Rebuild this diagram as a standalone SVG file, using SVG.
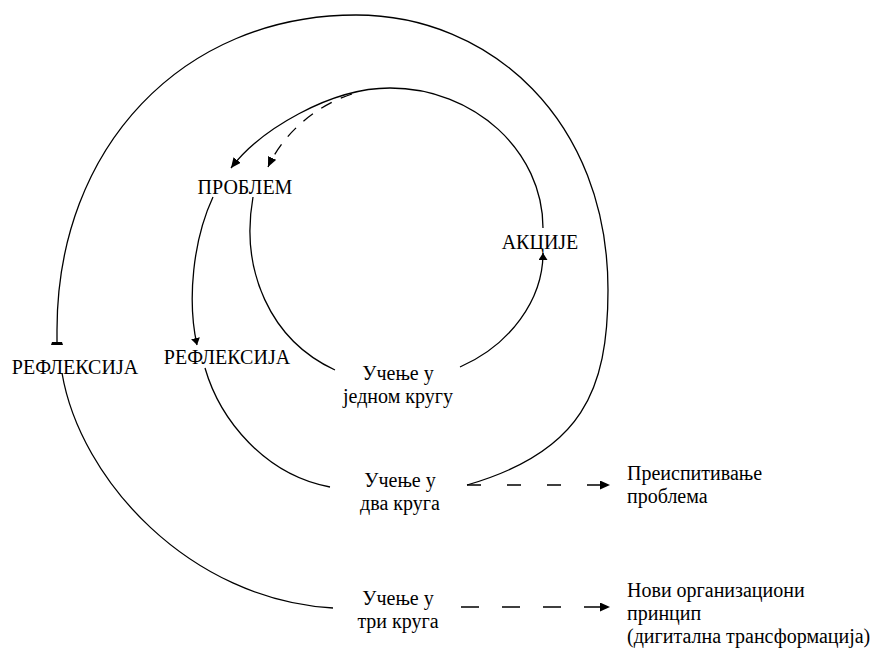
<svg xmlns="http://www.w3.org/2000/svg" width="876" height="659" viewBox="0 0 876 659">
  <style>
    .lbl { font-family: "Liberation Serif", "Times New Roman", serif; font-size: 20px; fill: #000; }
    .mid { text-anchor: middle; }
    .ln { fill: none; stroke: #000; stroke-width: 1.3; }
    .dash { stroke-dasharray: 12 10; }
    .dashh1 { stroke-dasharray: 14 26; }
    .dashh2 { stroke-dasharray: 18 23; }
  </style>
  <defs>
    <marker id="head" markerUnits="userSpaceOnUse" markerWidth="11" markerHeight="9" refX="10" refY="4.5" orient="auto">
      <path d="M0,0 L10,4.5 L0,9 z" fill="#000"/>
    </marker>
    <marker id="headSmall" markerUnits="userSpaceOnUse" markerWidth="8" markerHeight="9" refX="7" refY="4.5" orient="auto">
      <path d="M0,0 L7,4.5 L0,9 z" fill="#000"/>
    </marker>
    <marker id="headFlat" markerUnits="userSpaceOnUse" markerWidth="5" markerHeight="12" refX="3" refY="6" orient="auto">
      <path d="M0,1 L3,0 L3,12 L0,11 z" fill="#000"/>
    </marker>
  </defs>

  <!-- connectors -->
  <g id="connectors">
    <!-- triple loop: from "two loops" around the top to the outer reflection -->
    <path class="ln" marker-end="url(#headFlat)" d="M467,485 C582,452 608,390 608,290 C608,120 490,15 356,15 C183,15 57,147 57,330 L57,345"/>
    <path class="ln" d="M62,373 C80,480 190,600 333,608"/>
    <!-- double loop -->
    <path class="ln" marker-end="url(#headSmall)" d="M213,197 C193,240 187,300 197,345"/>
    <path class="ln" d="M205,368 C220,420 265,475 330,487"/>
    <!-- single loop -->
    <path class="ln" d="M253,197 C240,270 270,340 335,370"/>
    <path class="ln" marker-end="url(#headSmall)" d="M460,367 C510,345 543,300 543,253"/>
    <path class="ln" marker-end="url(#head)" d="M543,228 C543,151 474,88 390,88 C330,88 260,130 231,168"/>
    <path class="ln dash" marker-end="url(#head)" d="M352,94 C320,104 285,130 268,167"/>
    <!-- outcomes -->
    <path class="ln dashh1" marker-end="url(#head)" d="M467,485 H610"/>
    <path class="ln dashh2" marker-end="url(#head)" d="M461,607 H610"/>
  </g>

  <g id="problem"><text class="lbl mid" x="245" y="194">ПРОБЛЕМ</text></g>
  <g id="actions"><text class="lbl mid" x="540" y="249">АКЦИЈЕ</text></g>
  <g id="reflection-outer"><text class="lbl mid" x="75" y="374">РЕФЛЕКСИЈА</text></g>
  <g id="reflection-inner"><text class="lbl mid" x="227" y="364">РЕФЛЕКСИЈА</text></g>

  <g id="single-loop">
    <text class="lbl mid" x="398" y="380">Учење у</text>
    <text class="lbl mid" x="398" y="403">једном кругу</text>
  </g>
  <g id="double-loop">
    <text class="lbl mid" x="400" y="487">Учење у</text>
    <text class="lbl mid" x="400" y="510">два круга</text>
  </g>
  <g id="triple-loop">
    <text class="lbl mid" x="398" y="605">Учење у</text>
    <text class="lbl mid" x="398" y="628">три круга</text>
  </g>

  <g id="reframing">
    <text class="lbl" x="627" y="480">Преиспитивање</text>
    <text class="lbl" x="627" y="503">проблема</text>
  </g>
  <g id="new-principle">
    <text class="lbl" x="627" y="597">Нови организациони</text>
    <text class="lbl" x="627" y="620">принцип</text>
    <text class="lbl" x="627" y="643">(дигитална трансформација)</text>
  </g>
</svg>
